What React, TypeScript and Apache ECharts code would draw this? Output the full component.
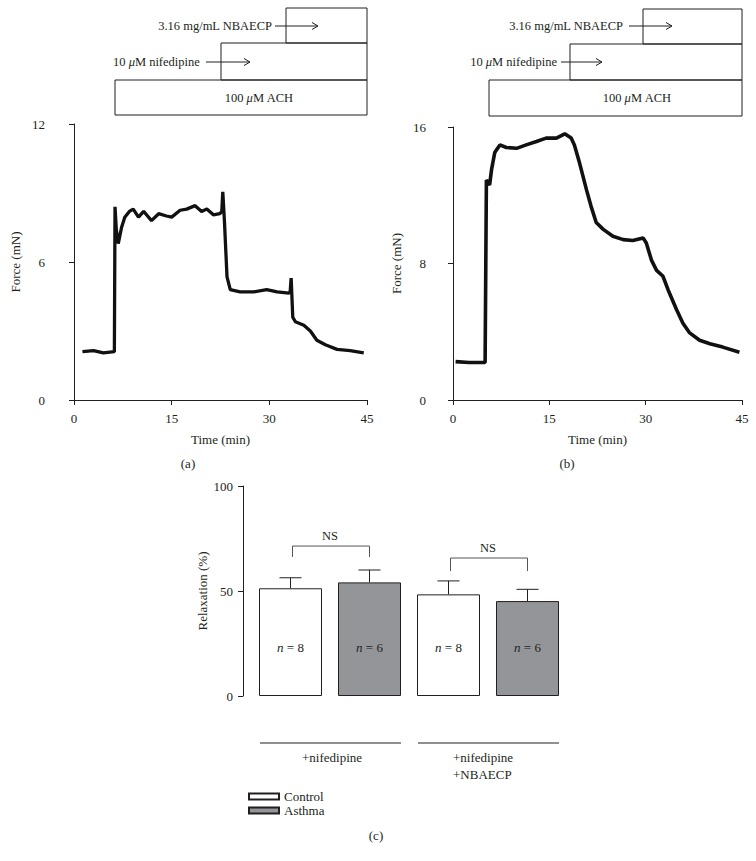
import React, { useEffect, useRef } from "react";
import * as echarts from "echarts";

// Panel (a): force trace, [time (min), force (mN)]
const traceA: [number, number][] = [
  [1.3, 2.1], [3.0, 2.15], [4.5, 2.05], [6.2, 2.1], [6.3, 8.4], [6.5, 7.4], [6.8, 6.8], [7.3, 7.5],
  [7.8, 7.95], [8.5, 8.2], [9.1, 8.3], [9.9, 7.95], [10.7, 8.2], [11.3, 8.0], [11.9, 7.8],
  [13.0, 8.1], [14.2, 8.0], [15.0, 7.95], [16.3, 8.25], [17.3, 8.3], [18.6, 8.45], [19.6, 8.2],
  [20.4, 8.3], [21.4, 8.05], [22.4, 8.1], [22.7, 8.2], [22.85, 9.05], [23.1, 7.8], [23.5, 5.35],
  [24.0, 4.8], [25.5, 4.7], [27.6, 4.7], [29.6, 4.8], [31.2, 4.7], [33.0, 4.65], [33.2, 4.7],
  [33.35, 5.3], [33.6, 3.6], [34.0, 3.4], [35.3, 3.25], [36.3, 3.0], [37.3, 2.6], [38.6, 2.4],
  [40.4, 2.2], [42.4, 2.15], [44.5, 2.05],
];

// Panel (b): force trace, [time (min), force (mN)]
const traceB: [number, number][] = [
  [0.4, 2.25], [2.5, 2.2], [5.0, 2.2], [5.2, 12.9], [5.7, 12.6], [6.0, 13.5], [6.5, 14.5],
  [7.3, 14.95], [8.3, 14.8], [9.9, 14.75], [11.4, 14.95], [13.0, 15.15], [14.5, 15.35],
  [16.1, 15.35], [17.4, 15.6], [18.4, 15.35], [18.9, 14.95], [19.7, 13.9], [20.8, 12.3],
  [21.5, 11.35], [22.3, 10.4], [23.4, 10.0], [24.9, 9.6], [26.5, 9.4], [28.0, 9.35],
  [29.6, 9.5], [30.1, 9.2], [30.9, 8.2], [31.7, 7.6], [32.7, 7.25], [33.5, 6.45], [34.8, 5.3],
  [35.8, 4.5], [36.8, 3.95], [38.4, 3.5], [40.0, 3.3], [42.0, 3.1], [44.6, 2.8],
];

// Panel (c): relaxation bars
const barCategories = [
  "Control +nifedipine",
  "Asthma +nifedipine",
  "Control +nifedipine +NBAECP",
  "Asthma +nifedipine +NBAECP",
];
const controlValues: (number | null)[] = [51.3, null, 48.4, null];
const asthmaValues: (number | null)[] = [null, 54.1, null, 45.2];
const barValues = [51.3, 54.1, 48.4, 45.2];
const errorTops = [56.3, 60.0, 54.8, 50.8];
const nLabels = ["8", "6", "8", "6"];
// [fromIndex, toIndex, bracketLevel, legEnd]
const nsBrackets: [number, number, number, number][] = [
  [0, 1, 71.4, 66.2],
  [2, 3, 65.7, 59.5],
];
const nLabelLevel = 23;

const timeTicks = { min: 0, max: 45, interval: 15 };
const forceTicksA = { min: 0, max: 12, interval: 6 };
const forceTicksB = { min: 0, max: 16, interval: 8 };
const relaxTicks = { min: 0, max: 100, interval: 50 };

const FONT = "'Liberation Serif', 'DejaVu Serif', serif";
const INK = "#231f20";
const GRAY = "#939598";

const axisCommon = {
  axisLine: { show: true, lineStyle: { color: INK, width: 1 } },
  axisTick: { show: true, length: 5, lineStyle: { color: INK, width: 1 } },
  axisLabel: { color: INK, fontSize: 13, fontFamily: FONT },
  splitLine: { show: false },
  nameTextStyle: { color: INK, fontSize: 13, fontFamily: FONT },
};

function txt(x: number, y: number, text: string, align: string = "center", extra: any = {}) {
  return {
    type: "text",
    x,
    y,
    style: {
      text,
      fill: INK,
      fontSize: 12.5,
      fontFamily: FONT,
      align,
      verticalAlign: "middle",
      rich: { mu: { fontStyle: "italic", fontSize: 12.5, fontFamily: FONT, fill: INK } },
      ...extra,
    },
  };
}

function box(x1: number, y1: number, x2: number, y2: number) {
  return {
    type: "rect",
    shape: { x: x1, y: y1, width: x2 - x1, height: y2 - y1 },
    style: { fill: "rgba(0,0,0,0)", stroke: INK, lineWidth: 1 },
  };
}

function arrow(x1: number, x2: number, y: number) {
  return [
    { type: "line", shape: { x1, y1: y, x2, y2: y }, style: { stroke: INK, lineWidth: 1 } },
    {
      type: "polyline",
      shape: { points: [[x2 - 6, y - 3.5], [x2, y], [x2 - 6, y + 3.5]] },
      style: { stroke: INK, lineWidth: 1, fill: "none" },
    },
  ];
}

function hline(x1: number, x2: number, y: number) {
  return { type: "line", shape: { x1, y1: y, x2, y2: y }, style: { stroke: INK, lineWidth: 1 } };
}

export default function App() {
  const ref = useRef<HTMLDivElement>(null);

  useEffect(() => {
    if (!ref.current) return;
    const chart = echarts.init(ref.current, undefined, { renderer: "svg" });

    const graphic: any[] = [
      // Panel (a) protocol boxes
      box(286, 8, 367, 43),
      box(221, 43, 367, 80),
      box(115, 80, 367, 115),
      txt(272, 26, "3.16 mg/mL NBAECP", "right"),
      ...arrow(275, 318, 26),
      txt(113, 62, "10 {mu|μ}M nifedipine", "left"),
      ...arrow(206, 250, 62),
      txt(259, 98, "100 {mu|μ}M ACH", "center"),
      // Panel (b) protocol boxes
      box(643, 9, 742, 44),
      box(570, 44, 742, 80),
      box(489, 80, 742, 116),
      txt(623, 26, "3.16 mg/mL NBAECP", "right"),
      ...arrow(629, 672, 26),
      txt(557, 62, "10 {mu|μ}M nifedipine", "right"),
      ...arrow(561, 602, 62),
      txt(637, 98, "100 {mu|μ}M ACH", "center"),
      // panel letters
      txt(188, 463, "(a)", "center", { fontSize: 13 }),
      txt(567, 463, "(b)", "center", { fontSize: 13 }),
      txt(376, 835, "(c)", "center", { fontSize: 13 }),
      // group labels under panel (c)
      hline(260, 401, 743),
      hline(418, 559, 743),
      txt(332, 757, "+nifedipine", "center", { fontSize: 13 }),
      txt(453, 757, "+nifedipine", "left", { fontSize: 13 }),
      txt(453, 774, "+NBAECP", "left", { fontSize: 13 }),
    ];

    chart.setOption({
      animation: false,
      backgroundColor: "#ffffff",
      textStyle: { fontFamily: FONT },
      grid: [
        { left: 74, top: 124, width: 293, height: 276 },
        { left: 453, top: 127, width: 289, height: 273 },
        { left: 251, top: 486, width: 316, height: 210 },
      ],
      xAxis: [
        {
          ...axisCommon,
          gridIndex: 0,
          type: "value",
          ...timeTicks,
          offset: 3,
          name: "Time (min)",
          nameLocation: "middle",
          nameGap: 30,
          axisLabel: { ...axisCommon.axisLabel, margin: 9 },
        },
        {
          ...axisCommon,
          gridIndex: 1,
          type: "value",
          ...timeTicks,
          offset: 3,
          name: "Time (min)",
          nameLocation: "middle",
          nameGap: 30,
          axisLabel: { ...axisCommon.axisLabel, margin: 9 },
        },
        {
          gridIndex: 2,
          type: "category",
          data: barCategories,
          show: false,
        },
      ],
      yAxis: [
        {
          ...axisCommon,
          gridIndex: 0,
          type: "value",
          ...forceTicksA,
          offset: 20,
          name: "Force (mN)",
          nameLocation: "middle",
          nameGap: 32,
          axisLabel: { ...axisCommon.axisLabel, margin: 9 },
        },
        {
          ...axisCommon,
          gridIndex: 1,
          type: "value",
          ...forceTicksB,
          offset: 18,
          name: "Force (mN)",
          nameLocation: "middle",
          nameGap: 32,
          axisLabel: { ...axisCommon.axisLabel, margin: 9 },
        },
        {
          ...axisCommon,
          gridIndex: 2,
          type: "value",
          ...relaxTicks,
          offset: 8,
          name: "Relaxation (%)",
          nameLocation: "middle",
          nameGap: 34,
          axisLabel: { ...axisCommon.axisLabel, margin: 10 },
        },
      ],
      legend: {
        data: ["Control", "Asthma"],
        orient: "vertical",
        left: 243,
        top: 785,
        itemWidth: 30,
        itemHeight: 6,
        itemGap: 1,
        icon: "rect",
        textStyle: { color: INK, fontSize: 13, fontFamily: FONT, padding: [0, 0, 0, 0] },
        selectedMode: false,
      },
      series: [
        {
          type: "line",
          xAxisIndex: 0,
          yAxisIndex: 0,
          data: traceA,
          showSymbol: false,
          symbol: "none",
          lineStyle: { color: "#111", width: 3.3 },
        },
        {
          type: "line",
          xAxisIndex: 1,
          yAxisIndex: 1,
          data: traceB,
          showSymbol: false,
          symbol: "none",
          lineStyle: { color: "#111", width: 3.6 },
        },
        {
          name: "Control",
          type: "bar",
          xAxisIndex: 2,
          yAxisIndex: 2,
          stack: "g",
          barWidth: 63,
          data: controlValues,
          itemStyle: { color: "#ffffff", borderColor: INK, borderWidth: 1 },
        },
        {
          name: "Asthma",
          type: "bar",
          xAxisIndex: 2,
          yAxisIndex: 2,
          stack: "g",
          barWidth: 63,
          data: asthmaValues,
          itemStyle: { color: GRAY, borderColor: INK, borderWidth: 1 },
        },
        {
          type: "custom",
          xAxisIndex: 2,
          yAxisIndex: 2,
          data: errorTops.map((e, i) => [i, barValues[i], e]),
          z: 5,
          renderItem: (params: any, api: any) => {
            const i = api.value(0);
            const p0 = api.coord([i, api.value(1)]);
            const p1 = api.coord([i, api.value(2)]);
            const half = 11;
            return {
              type: "group",
              children: [
                { type: "line", shape: { x1: p0[0], y1: p0[1], x2: p1[0], y2: p1[1] }, style: { stroke: INK, lineWidth: 1 } },
                { type: "line", shape: { x1: p1[0] - half, y1: p1[1], x2: p1[0] + half, y2: p1[1] }, style: { stroke: INK, lineWidth: 1 } },
              ],
            };
          },
        },
        {
          type: "custom",
          xAxisIndex: 2,
          yAxisIndex: 2,
          data: nsBrackets,
          z: 5,
          renderItem: (params: any, api: any) => {
            const a = api.coord([api.value(0), api.value(2)]);
            const b = api.coord([api.value(1), api.value(2)]);
            const aLow = api.coord([api.value(0), api.value(3)]);
            const bLow = api.coord([api.value(1), api.value(3)]);
            return {
              type: "group",
              children: [
                {
                  type: "polyline",
                  shape: { points: [[a[0] + 2, aLow[1]], [a[0] + 2, a[1]], [b[0], b[1]], [b[0], bLow[1]]] },
                  style: { stroke: "#555", lineWidth: 1, fill: "none" },
                },
                {
                  type: "text",
                  x: (a[0] + b[0]) / 2,
                  y: a[1] - 10,
                  style: { text: "NS", fill: INK, fontSize: 12.5, fontFamily: FONT, align: "center", verticalAlign: "middle" },
                },
              ],
            };
          },
        },
        {
          type: "custom",
          xAxisIndex: 2,
          yAxisIndex: 2,
          data: nLabels.map((n, i) => [i, nLabelLevel, n]),
          z: 6,
          renderItem: (params: any, api: any) => {
            const p = api.coord([api.value(0), api.value(1)]);
            return {
              type: "text",
              x: p[0],
              y: p[1],
              style: {
                text: "{i|n} = " + nLabels[params.dataIndex],
                fill: INK,
                fontSize: 13,
                fontFamily: FONT,
                align: "center",
                verticalAlign: "middle",
                rich: { i: { fontStyle: "italic", fontSize: 13, fontFamily: FONT, fill: INK } },
              },
            };
          },
        },
      ],
      graphic,
    });

    return () => chart.dispose();
  }, []);

  return (
    <div
      ref={ref}
      style={{ position: "absolute", left: 0, top: 0, width: 756, height: 861, background: "#fff" }}
    />
  );
}
